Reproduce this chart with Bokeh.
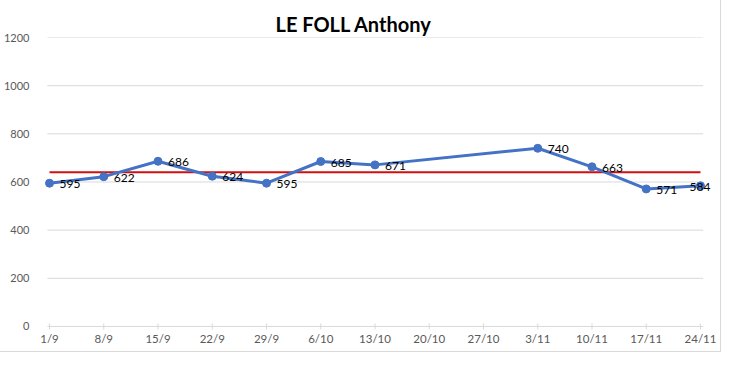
from bokeh.plotting import figure
from bokeh.models import Range1d, FixedTicker, ColumnDataSource
from bokeh.core.properties import value
from bokeh.embed import file_html
from bokeh.resources import INLINE

# ---- data ----
week_labels = ["1/9", "8/9", "15/9", "22/9", "29/9", "6/10", "13/10",
               "20/10", "27/10", "3/11", "10/11", "17/11", "24/11"]
point_weeks = ["1/9", "8/9", "15/9", "22/9", "29/9", "6/10", "13/10",
               "3/11", "10/11", "17/11", "24/11"]
scores = [595, 622, 686, 624, 595, 685, 671, 740, 663, 571, 584]
average_score = 640
y_ticks = [0, 200, 400, 600, 800, 1000, 1200]

FONT = "Lato"
GRAY = "#595959"
GRID = "#d9d9d9"

idx = {w: i for i, w in enumerate(week_labels)}
xs = [idx[w] for w in point_weeks]
n_cat = len(week_labels)

# frame extends below 0 and left/right so that tick labels fit inside it
p = figure(width=720, height=351, output_backend="svg", toolbar_location=None,
           x_range=Range1d(-0.203, 12.369), y_range=Range1d(-104, 1200),
           min_border_left=38, min_border_right=0, min_border_bottom=0,
           min_border_top=37)
p.styles = {"outline": "1px solid #d9d9d9"}

p.title.text = "LE FOLL Anthony"
p.title.align = "left"
p.title.offset = 237
p.title.standoff = 3
p.title.text_font = FONT
p.title.text_font_size = "20px"
p.title.text_font_style = "bold"
p.title.text_color = "#000000"

p.outline_line_color = None
p.xgrid.grid_line_color = None
p.ygrid.grid_line_color = None
p.xaxis.visible = False

p.yaxis.ticker = FixedTicker(ticks=y_ticks)
p.yaxis.axis_line_color = None
p.yaxis.major_tick_line_color = None
p.yaxis.minor_tick_line_color = None
p.yaxis.major_label_text_font = FONT
p.yaxis.major_label_text_font_size = "11px"
p.yaxis.major_label_text_color = GRAY
p.yaxis.major_label_standoff = 3

# horizontal grid lines (incl. the category axis line at 0), spanning the categories
gx0, gx1 = -0.04, (n_cat - 1) + 0.05
p.segment(x0=[gx0] * len(y_ticks), y0=y_ticks, x1=[gx1] * len(y_ticks), y1=y_ticks,
          line_color=GRID, line_width=1)

# x ticks and tick labels (inside the frame, below y = 0)
tick_x = list(range(n_cat))
xl = ColumnDataSource(dict(x=tick_x, y=[0] * n_cat, t=week_labels))
p.scatter("x", "y", source=xl, marker="dash", angle=1.5708, size=6,
          line_color=GRID, line_width=1)
p.text("x", "y", "t", source=xl, y_offset=12,
       text_font=value(FONT), text_font_size="11.5px", text_color=GRAY,
       text_align="center", text_baseline="middle")

# average line
p.line([0, n_cat - 1], [average_score, average_score],
       line_color="#D01010", line_width=2)

src = ColumnDataSource(dict(x=xs, y=scores, t=[str(s) for s in scores],
                            dx=[10] * (len(xs) - 1) + [-11]))
p.line("x", "y", source=src, line_color="#4472C4", line_width=3)
p.scatter("x", "y", source=src, size=8, fill_color="#4472C4", line_color="#4472C4")
p.text("x", "y", "t", source=src, x_offset="dx", y_offset=1,
       text_font=value(FONT), text_font_size="12px", text_color="#000000",
       text_baseline="middle", text_align="left")

open("out.html", "w").write(file_html(p, INLINE))
